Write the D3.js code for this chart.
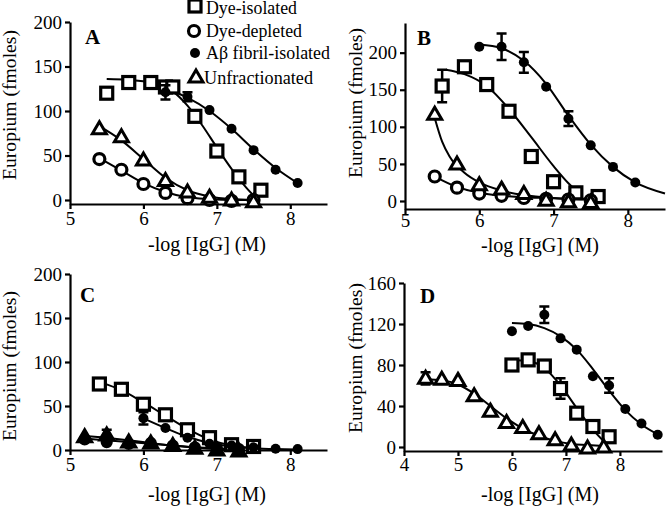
<!DOCTYPE html>
<html><head><meta charset="utf-8">
<script src="https://cdn.jsdelivr.net/npm/d3@7"></script>
<style>body{margin:0;background:#fff}svg{display:block}text{font-family:"Liberation Serif","Times New Roman",Times,serif}</style>
</head><body><svg id="c" width="668" height="509"></svg>
<script>
// ---- data: [x, y, err] ----
const seriesNames = ["Dye-isolated", "Dye-depleted", "A\u03B2 fibril-isolated", "Unfractionated"];
const xTitle = "-log [IgG] (M)";
const yTitle = "Europium (fmoles)";

// Panel A
const A_dyeIsolated = [[5.5,120,6],[5.8,132],[6.1,132],[6.3,127],[6.4,127],[6.7,94],[7.0,55],[7.3,26],[7.6,11]];
const A_dyeDepleted = [[5.4,46],[5.7,34],[6.0,18],[6.3,8],[6.6,2],[6.9,0],[7.2,-1],[7.5,0]];
const A_fibril = [[6.3,121,8],[6.6,116,5],[6.9,101],[7.2,80],[7.5,56],[7.8,34],[8.1,19]];
const A_unfrac = [[5.4,80],[5.7,71],[6.0,45],[6.3,22],[6.6,9],[6.9,3],[7.2,0],[7.5,-2]];
const A_fitDyeIsolated = [[5.5,136],[5.8,135],[6.1,132],[6.4,122],[6.6,106],[6.8,84],[7.0,59],[7.2,35],[7.4,14],[7.55,1]];
const A_fitDyeDepleted = [[5.4,47],[5.7,33],[6.0,19],[6.3,9],[6.6,3],[6.9,1],[7.2,0],[7.5,0]];
const A_fitFibril = [[6.3,125],[6.6,115],[6.9,100],[7.2,80],[7.5,57],[7.8,36],[8.1,19]];
const A_fitUnfrac = [[5.4,83],[5.7,67],[6.0,46],[6.3,25],[6.6,11],[6.9,4],[7.2,1],[7.5,0]];

// Panel B
const B_dyeIsolated = [[5.5,155,22],[5.8,181],[6.1,157],[6.4,121],[6.7,60],[7.0,26],[7.3,11],[7.6,6]];
const B_dyeDepleted = [[5.4,33],[5.7,18],[6.0,10],[6.3,7],[6.6,4],[6.9,3],[7.2,2],[7.5,1]];
const B_fibril = [[6.0,208],[6.3,208,18],[6.6,187,14],[6.9,154],[7.2,111,10],[7.5,75],[7.8,46],[8.1,25]];
const B_unfrac = [[5.4,117],[5.7,50],[6.0,22],[6.3,16],[6.6,10],[6.9,1],[7.2,-1],[7.5,-2]];
const B_fitDyeIsolated = [[5.55,177],[5.8,171],[6.1,155],[6.4,124],[6.7,86],[7.0,47],[7.2,24],[7.35,10]];
const B_fitDyeDepleted = [[5.4,33],[5.7,19],[6.0,11],[6.3,7],[6.6,5],[6.9,4],[7.2,3],[7.5,3]];
const B_fitFibril = [[6.0,211],[6.3,206],[6.6,189],[6.9,158],[7.2,115],[7.5,76],[7.8,46],[8.1,25],[8.5,10]];
const B_fitUnfrac = [[5.4,112],[5.5,80],[5.6,60],[5.8,38],[6.0,25],[6.3,14],[6.6,8],[7.0,4],[7.5,2]];

// Panel C
const C_dyeIsolated = [[5.4,75,5],[5.7,69],[6.0,52],[6.3,40],[6.6,23],[6.9,14],[7.2,6],[7.5,4]];
const C_dyeDepleted = [[5.2,12],[5.5,9],[5.8,7],[6.1,8],[6.4,5],[6.7,3],[7.0,2],[7.3,1]];
const C_fibril = [[6.0,36,7],[6.3,25],[6.6,14],[6.9,7],[7.2,5],[7.5,3],[7.8,1.5],[8.1,1]];
const C_unfrac = [[5.2,15],[5.5,17,6],[5.8,9],[6.1,8],[6.4,5],[6.7,2],[7.0,0],[7.3,-1]];
const C_fitDyeIsolated = [[5.45,76],[5.7,68],[6.0,54],[6.3,39],[6.6,24],[6.9,12],[7.2,5],[7.5,2]];
const C_fitDyeDepleted = [[5.2,13],[5.5,11],[5.8,9],[6.1,7],[6.4,5],[6.7,3],[7.0,2],[7.3,1]];
const C_fitFibril = [[6.0,36],[6.3,25],[6.6,15],[6.9,8],[7.2,4],[7.5,2],[7.8,1],[8.1,0.5]];
const C_fitUnfrac = [[5.2,16],[5.5,14],[5.8,11],[6.1,8],[6.4,5],[6.7,3],[7.0,1],[7.3,0]];

// Panel D
const D_dyeIsolated = [[6.0,80],[6.3,85],[6.6,79],[6.9,57,10],[7.2,33],[7.5,20],[7.8,10]];
const D_fibril = [[6.0,113],[6.3,118],[6.6,129,8],[6.9,106],[7.2,95],[7.5,69],[7.8,60,7],[8.1,37],[8.4,23],[8.7,12]];
const D_unfrac = [[4.4,67,6],[4.7,66],[5.0,65],[5.3,50],[5.6,35],[5.9,24],[6.2,19],[6.5,13],[6.8,7],[7.1,2],[7.4,-1],[7.7,0]];
const D_fitDyeIsolated = [[6.0,85],[6.3,84],[6.6,77],[6.9,60],[7.2,38],[7.5,17],[7.75,3]];
const D_fitFibril = [[6.0,121],[6.3,120],[6.6,116],[6.9,108],[7.2,95],[7.5,76],[7.8,55],[8.1,36],[8.4,22],[8.75,11]];
const D_fitUnfrac = [[4.4,66],[4.7,65],[5.0,61],[5.3,52],[5.6,40],[5.9,28],[6.2,18],[6.5,11],[6.8,6],[7.1,3],[7.4,2],[7.7,1]];

const yTicksA = [0,50,100,150,200], yTicksB = [0,50,100,150,200], yTicksC = [0,50,100,150,200], yTicksD = [0,40,80,120,160];
const xTicksA = [5,6,7,8], xTicksD = [4,5,6,7,8];

// ---- layout ----
const panels = [
  {label:"A", xd:[5,8.5], xr:[70,327], yd:[-4.5,200], yr:[204,22], yt:yTicksA, xt:xTicksA, pad:3,
   lab:[85,44], xtl:[207,251], ytl:[16,105], small:false,
   s:[[A_fitDyeIsolated,A_dyeIsolated,"square"],[A_fitDyeDepleted,A_dyeDepleted,"circle"],[A_fitUnfrac,A_unfrac,"triangle"],[A_fitFibril,A_fibril,"dot"]]},
  {label:"B", xd:[5,8.5], xr:[405,665], yd:[-10.8,240], yr:[209,23], yt:yTicksB, xt:xTicksA, pad:0,
   lab:[417,45], xtl:[540,252], ytl:[362,103], small:false,
   s:[[B_fitDyeIsolated,B_dyeIsolated,"square"],[B_fitDyeDepleted,B_dyeDepleted,"circle"],[B_fitUnfrac,B_unfrac,"triangle"],[B_fitFibril,B_fibril,"dot"]]},
  {label:"C", xd:[5,8.5], xr:[70,327], yd:[0,200], yr:[450,274], yt:yTicksC, xt:xTicksA, pad:3,
   lab:[80,302], xtl:[207,501], ytl:[16,366], small:true,
   s:[[C_fitDyeIsolated,C_dyeIsolated,"square"],[C_fitDyeDepleted,C_dyeDepleted,"circle"],[C_fitUnfrac,C_unfrac,"triangle"],[C_fitFibril,C_fibril,"dot"]]},
  {label:"D", xd:[4,8.78], xr:[404,662], yd:[-3.9,160], yr:[451,283], yt:yTicksD, xt:xTicksD, pad:2,
   lab:[420,303], xtl:[540,501], ytl:[362,358], small:false,
   s:[[D_fitDyeIsolated,D_dyeIsolated,"square"],[D_fitUnfrac,D_unfrac,"triangle"],[D_fitFibril,D_fibril,"dot"]]}
];

const svg = d3.select("#c");

function marker(g, type, x, y, small) {
  if (type === "square") {
    g.append("rect").attr("x", x-6).attr("y", y-6).attr("width", 12).attr("height", 12)
      .attr("fill", "#fff").attr("stroke", "#000").attr("stroke-width", 3.2);
  } else if (type === "circle") {
    g.append("circle").attr("cx", x).attr("cy", y).attr("r", small ? 4.5 : 5.5)
      .attr("fill", small ? "#000" : "#fff").attr("stroke", "#000").attr("stroke-width", 3.2);
  } else if (type === "dot") {
    g.append("circle").attr("cx", x).attr("cy", y).attr("r", 5).attr("fill", "#000");
  } else {
    g.append("path").attr("d", `M${x},${y-7}L${x+7},${y+5}L${x-7},${y+5}Z`)
      .attr("fill", small ? "#000" : "#fff").attr("stroke", "#000").attr("stroke-width", 3).attr("stroke-linejoin", "miter");
  }
}

function fitText(sel, w) {
  sel.attr("textLength", w).attr("lengthAdjust", "spacingAndGlyphs");
}

panels.forEach(p => {
  const x = d3.scaleLinear().domain(p.xd).range(p.xr);
  const y = d3.scaleLinear().domain(p.yd).range(p.yr);
  const g = svg.append("g");

  const ax = g.append("g").attr("transform", `translate(0,${p.yr[0]})`)
    .call(d3.axisBottom(x).tickValues(p.xt).tickFormat(d3.format("d")).tickSize(5).tickSizeOuter(0).tickPadding(p.pad));
  const ay = g.append("g").attr("transform", `translate(${p.xr[0]},0)`)
    .call(d3.axisLeft(y).tickValues(p.yt).tickFormat(d3.format("d")).tickSize(5).tickSizeOuter(0).tickPadding(3));
  [ax, ay].forEach(a => {
    a.attr("font-family", null);
    a.selectAll("path,line").attr("stroke", "#000").attr("stroke-width", 2.2);
    a.selectAll("text").attr("fill", "#000").style("font-size", "19px");
  });

  g.append("text").attr("x", p.lab[0]).attr("y", p.lab[1]).text(p.label)
    .style("font-size", "21px").style("font-weight", "bold");
  g.append("text").attr("x", p.xtl[0]).attr("y", p.xtl[1]).attr("text-anchor", "middle")
    .style("font-size", "20px").text(xTitle).call(fitText, 118);
  g.append("text").attr("transform", `translate(${p.ytl[0]},${p.ytl[1]}) rotate(-90)`)
    .attr("text-anchor", "middle").style("font-size", "19px").text(yTitle).call(fitText, 150);

  const line = d3.line().x(d => x(d[0])).y(d => y(d[1])).curve(d3.curveMonotoneX);
  p.s.forEach(([fit]) => {
    g.append("path").attr("d", line(fit)).attr("fill", "none").attr("stroke", "#000").attr("stroke-width", 2);
  });
  p.s.forEach(([, pts, type]) => {
    pts.forEach(d => {
      if (d[2]) {
        const cx = x(d[0]), y1 = y(d[1]-d[2]), y2 = y(d[1]+d[2]);
        g.append("path").attr("d", `M${cx},${y1}V${y2}M${cx-5},${y1}H${cx+5}M${cx-5},${y2}H${cx+5}`)
          .attr("stroke", "#000").attr("stroke-width", 2.5).attr("fill", "none");
      }
      marker(g, type, x(d[0]), y(d[1]), p.small);
    });
  });
});

// legend
const legend = svg.append("g");
const legTypes = ["square", "circle", "dot", "triangle"];
const legPos = [[195,6,206,14],[194,31,206,37],[195,53,206,59],[196,77,204,84]];
const legW = [91, 96, 124, 109];
seriesNames.forEach((n, i) => {
  marker(legend, legTypes[i], legPos[i][0], legPos[i][1], false);
  legend.append("text").attr("x", legPos[i][2]).attr("y", legPos[i][3]).style("font-size", "18px").text(n).call(fitText, legW[i]);
});
</script></body></html>
